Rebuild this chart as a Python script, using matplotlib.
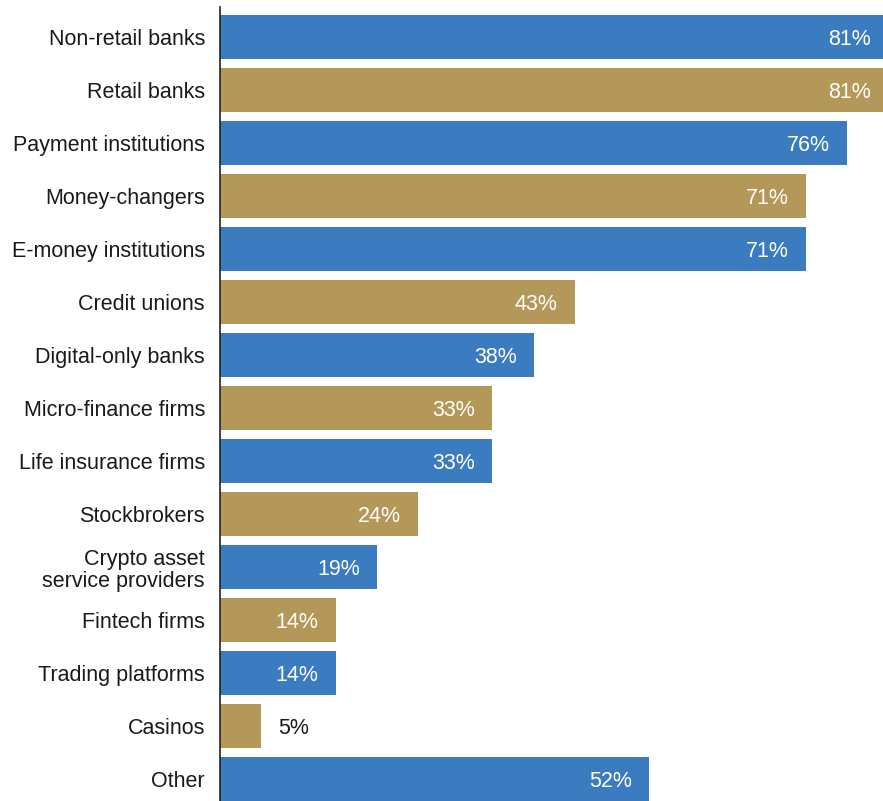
import matplotlib
matplotlib.use("Agg")
import matplotlib.pyplot as plt

plt.rcParams['font.family'] = ['Liberation Sans', 'DejaVu Sans']

categories = ["Non-retail banks", "Retail banks", "Payment institutions", "Money-changers",
              "E-money institutions", "Credit unions", "Digital-only banks",
              "Micro-finance firms", "Life insurance firms", "Stockbrokers",
              "Crypto asset\nservice providers", "Fintech firms", "Trading platforms",
              "Casinos", "Other"]
values = [81, 81, 76, 71, 71, 43, 38, 33, 33, 24, 19, 14, 14, 5, 52]

blue = "#3b7bbf"
gold = "#b39859"
colors = [blue if i % 2 == 0 else gold for i in range(len(values))]

fig = plt.figure(figsize=(8.83, 8.01), dpi=100)
ax = fig.add_axes([220 / 883, 0, 1 - 220 / 883, (801 - 7) / 801])

y = list(range(len(values)))
bars = ax.barh(y, values, height=0.83, color=colors)

ax.set_ylim(14.415, -0.566)
ax.set_xlim(0, (883 - 220) / 8.25)

ax.set_yticks(y)
ax.set_yticklabels(categories, fontsize=15.5, color="#1a1a1a", linespacing=1.1)
ax.tick_params(axis="y", length=0, pad=10.8)
ax.set_xticks([])

for s in ["top", "right", "bottom"]:
    ax.spines[s].set_visible(False)
ax.spines["left"].set_color("#222222")
ax.spines["left"].set_linewidth(1.2)

# value labels: inside the bar in white, outside in dark for short bars
for bar, v in zip(bars, values):
    yc = bar.get_y() + bar.get_height() / 2
    if v >= 10:
        ax.annotate(f"{v}%", (v, yc), xytext=(-12.2, 0), textcoords="offset points",
                    ha="right", va="center_baseline", color="white", fontsize=15.5,
                    annotation_clip=False)
    else:
        ax.annotate(f"{v}%", (v, yc), xytext=(12.2, 0), textcoords="offset points",
                    ha="left", va="center_baseline", color="#1a1a1a", fontsize=15.5,
                    annotation_clip=False)

fig.savefig("out.png", dpi=100)
